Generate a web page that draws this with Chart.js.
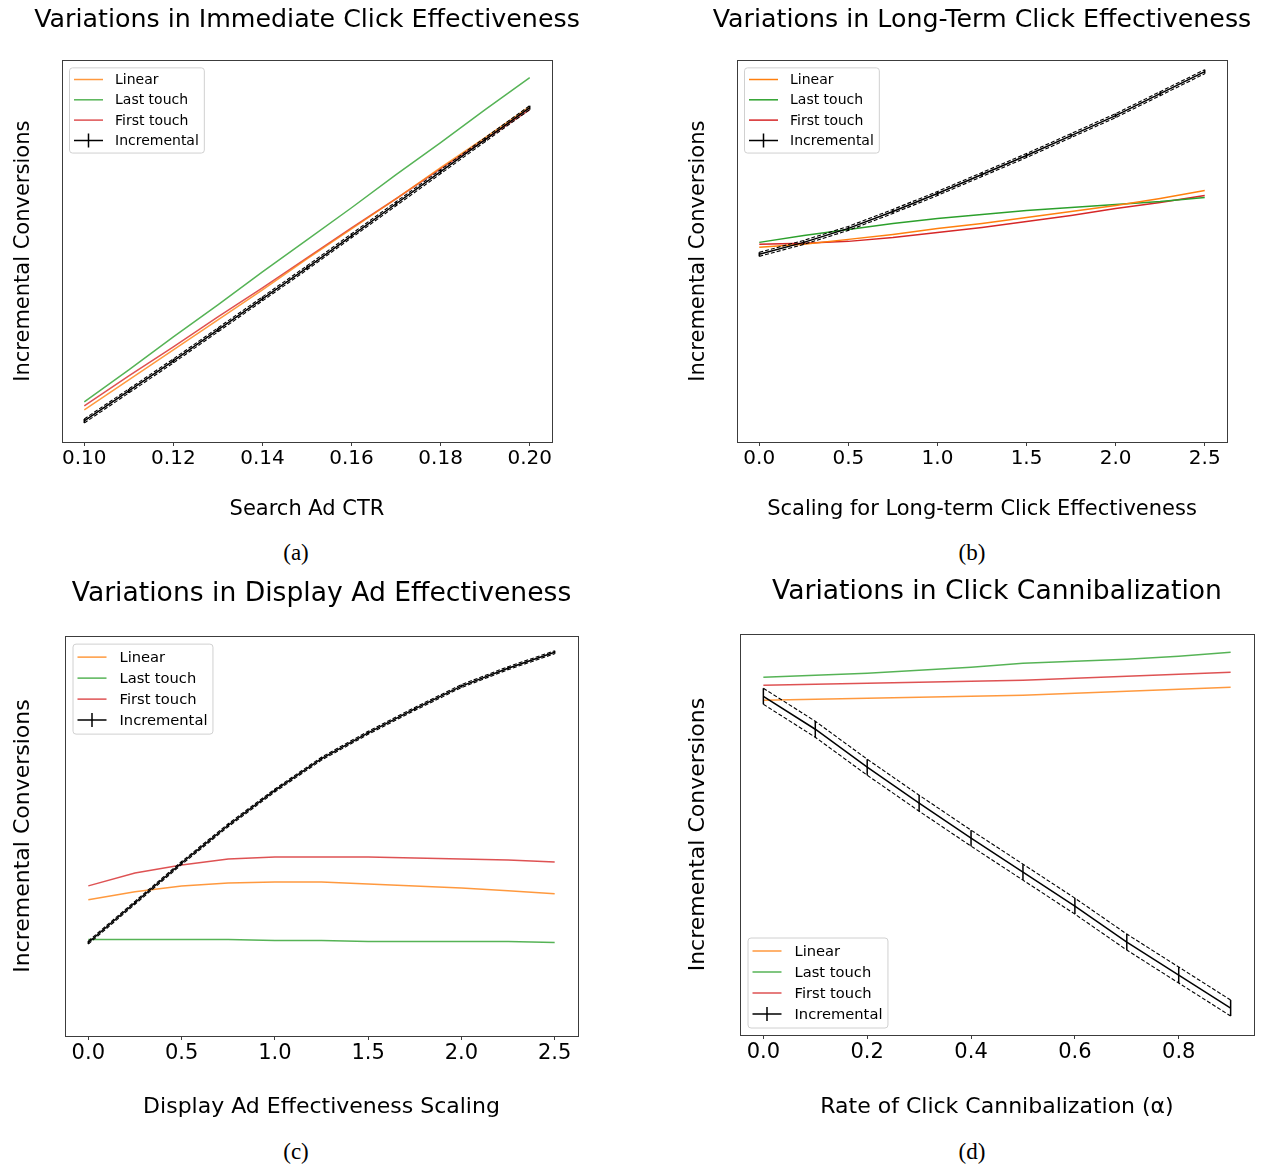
<!DOCTYPE html>
<html>
<head>
<meta charset="utf-8">
<title>Incremental conversions under attribution models</title>
<script src="https://cdn.jsdelivr.net/npm/chart.js@4.4.0/dist/chart.umd.min.js"></script>
<style>
    html, body { margin: 0; padding: 0; background: #fff; overflow: hidden; }
    body { width: 1270px; height: 1169px; position: relative; }
    canvas { position: absolute; }
    .cap {
        position: absolute;
        font-family: "Liberation Serif", "DejaVu Serif", serif;
        font-size: 23px;
        color: #000;
        transform: translate(-50%, -50%);
    }
</style>
</head>
<body>
<canvas id="chart-a" width="614" height="525" style="left:0px;top:0px"></canvas>
<canvas id="chart-b" width="614" height="525" style="left:675px;top:0px"></canvas>
<canvas id="chart-c" width="643" height="553" style="left:0px;top:570px"></canvas>
<canvas id="chart-d" width="654" height="555" style="left:670px;top:568px"></canvas>
<div class="cap" style="left:296px;top:553px">(a)</div>
<div class="cap" style="left:972px;top:553px">(b)</div>
<div class="cap" style="left:296px;top:1152px">(c)</div>
<div class="cap" style="left:972px;top:1152px">(d)</div>

<script>
// (a) search ad CTR
const ctrA = [0.10, 0.11, 0.12, 0.13, 0.14, 0.15, 0.16, 0.17, 0.18, 0.19, 0.20];
const linearA = [32, 62, 92, 122, 152, 183, 213, 243, 274, 304, 335];
const lastTouchA = [40, 72, 105, 137, 170, 202, 234, 267, 299, 332, 364];
const firstTouchA = [36, 66, 95, 125, 154, 184, 214, 243, 273, 302, 332];
const incrementalA = [21, 51, 81, 112, 143, 174, 206, 238, 270, 302, 334];
const incErrA = [2, 2, 2, 2, 2, 2, 2, 2, 2, 2, 2];
const xTicksA = [0.10, 0.12, 0.14, 0.16, 0.18, 0.20];
const xTickLabelsA = ['0.10', '0.12', '0.14', '0.16', '0.18', '0.20'];

// (b) long-term click effectiveness scaling
const scaleB = [0, 0.25, 0.5, 0.75, 1.0, 1.25, 1.5, 1.75, 2.0, 2.25, 2.5];
const linearB = [195, 198, 203, 208, 214, 219, 225, 231, 237, 244, 252];
const lastTouchB = [200, 207, 213, 219, 224, 228, 232, 235, 238, 241, 245];
const firstTouchB = [198, 199, 201, 205, 210, 215, 221, 227, 234, 240, 247];
const incrementalB = [188, 200, 214, 231, 249, 268, 287, 307, 327, 349, 371];
const incErrB = [2, 2, 2, 2, 2, 2, 2, 2, 2, 2, 2];
const xTicksB = [0, 0.5, 1.0, 1.5, 2.0, 2.5];
const xTickLabelsB = ['0.0', '0.5', '1.0', '1.5', '2.0', '2.5'];

// (c) display ad effectiveness scaling
const scaleC = [0, 0.25, 0.5, 0.75, 1.0, 1.25, 1.5, 1.75, 2.0, 2.25, 2.5];
const linearC = [137, 145, 151, 154, 155, 155, 153, 151, 149, 146, 143];
const lastTouchC = [97, 97, 97, 97, 96, 96, 95, 95, 95, 95, 94];
const firstTouchC = [151, 164, 172, 178, 180, 180, 180, 179, 178, 177, 175];
const incrementalC = [94, 134, 174, 212, 247, 279, 305, 329, 352, 370, 386];
const incErrC = [1.5, 1.5, 1.5, 1.5, 1.5, 1.5, 1.5, 1.5, 1.5, 1.5, 1.5];
const xTicksC = [0, 0.5, 1.0, 1.5, 2.0, 2.5];
const xTickLabelsC = ['0.0', '0.5', '1.0', '1.5', '2.0', '2.5'];

// (d) click cannibalization rate
const alphaD = [0, 0.1, 0.2, 0.3, 0.4, 0.5, 0.6, 0.7, 0.8, 0.9];
const linearD = [335, 336, 337, 338, 339, 340, 342, 344, 346, 348];
const lastTouchD = [358, 360, 362, 365, 368, 372, 374, 376, 379, 383];
const firstTouchD = [350, 351, 352, 353, 354, 355, 357, 359, 361, 363];
const incrementalD = [339, 306, 268, 232, 197, 163, 129, 93, 60, 27];
const incErrD = [8, 8, 8, 8, 8, 8, 8, 8, 8, 8];
const xTicksD = [0, 0.2, 0.4, 0.6, 0.8];
const xTickLabelsD = ['0.0', '0.2', '0.4', '0.6', '0.8'];

const FONT = 'DejaVu Sans';
const SPINE = '#3c3c3c';

// box round the plot area, like matplotlib spines
const frame = {
    id: 'frame',
    afterDraw(chart) {
        const a = chart.chartArea, ctx = chart.ctx;
        ctx.save();
        ctx.strokeStyle = SPINE;
        ctx.lineWidth = 1;
        ctx.strokeRect(Math.round(a.left) + 0.5, Math.round(a.top) + 0.5,
            Math.round(a.right - a.left), Math.round(a.bottom - a.top));
        ctx.restore();
    }
};

const errorBars = {
    id: 'errorBars',
    afterDatasetsDraw(chart) {
        const ctx = chart.ctx, x = chart.scales.x, y = chart.scales.y;
        chart.data.datasets.forEach(ds => {
            if (!ds.errors) return;
            ctx.save();
            ctx.strokeStyle = ds.borderColor;
            ctx.lineWidth = 1.5;
            ds.data.forEach((pt, i) => {
                const px = x.getPixelForValue(pt.x);
                ctx.beginPath();
                ctx.moveTo(px, y.getPixelForValue(pt.y - ds.errors[i]));
                ctx.lineTo(px, y.getPixelForValue(pt.y + ds.errors[i]));
                ctx.stroke();
            });
            ctx.restore();
        });
    }
};

// matplotlib style legend box
const mplLegend = {
    id: 'mplLegend',
    afterDraw(chart, args, opts) {
        const ctx = chart.ctx, a = chart.chartArea;
        const items = opts.items;
        ctx.save();
        ctx.font = opts.fontSize + 'px "' + FONT + '"';
        let tw = 0;
        items.forEach(it => { tw = Math.max(tw, ctx.measureText(it.label).width); });
        const w = opts.textX + tw + 5;
        const h = opts.row * items.length + opts.padY * 2;
        const x0 = a.left + opts.inset;
        const y0 = opts.corner === 'bl' ? a.bottom - opts.inset - h : a.top + opts.inset;
        ctx.beginPath();
        ctx.roundRect(x0 + 0.5, y0 + 0.5, w, h, 3);
        ctx.fillStyle = 'rgba(255,255,255,0.8)';
        ctx.fill();
        ctx.strokeStyle = '#d0d0d0';
        ctx.lineWidth = 1;
        ctx.stroke();
        items.forEach((it, i) => {
            const cy = y0 + opts.padY + opts.row * (i + 0.5);
            ctx.strokeStyle = it.color;
            ctx.lineWidth = 1.5;
            ctx.beginPath();
            ctx.moveTo(x0 + 5, cy);
            ctx.lineTo(x0 + 34, cy);
            if (it.bar) {
                ctx.moveTo(x0 + 19.5, cy - 7);
                ctx.lineTo(x0 + 19.5, cy + 7);
            }
            ctx.stroke();
            ctx.fillStyle = '#000';
            ctx.textBaseline = 'middle';
            ctx.textAlign = 'left';
            ctx.fillText(it.label, x0 + opts.textX, cy + 1);
        });
        ctx.restore();
    }
};

function tint(hex, alpha) {
    const n = parseInt(hex.slice(1), 16);
    return 'rgba(' + (n >> 16) + ',' + ((n >> 8) & 255) + ',' + (n & 255) + ',' + alpha + ')';
}

function drawPanel(id, p) {
    const upper = p.inc.map((v, i) => v + p.err[i]);
    const lower = p.inc.map((v, i) => v - p.err[i]);
    const all = [].concat(p.linear, p.last, p.first, upper, lower);
    const lo = Math.min(...all), hi = Math.max(...all);
    const xLo = Math.min(...p.x), xHi = Math.max(...p.x);
    const xPad = 0.05 * (xHi - xLo);
    const pts = arr => arr.map((v, i) => ({x: p.x[i], y: v}));
    const orange = tint('#ff7f0e', p.alpha), green = tint('#2ca02c', p.alpha), red = tint('#d62728', p.alpha);
    const line = {pointRadius: 0, tension: 0, fill: false, borderWidth: 1.5};

    return new Chart(document.getElementById(id), {
        type: 'line',
        data: {
            datasets: [
                {...line, label: 'Incremental', data: pts(p.inc), borderColor: '#000', errors: p.err},
                {...line, label: 'upper', data: pts(upper), borderColor: '#000', borderWidth: 1.1, borderDash: [4, 2]},
                {...line, label: 'lower', data: pts(lower), borderColor: '#000', borderWidth: 1.1, borderDash: [4, 2]},
                {...line, label: 'Linear', data: pts(p.linear), borderColor: orange},
                {...line, label: 'Last touch', data: pts(p.last), borderColor: green},
                {...line, label: 'First touch', data: pts(p.first), borderColor: red}
            ]
        },
        options: {
            responsive: false,
            animation: false,
            devicePixelRatio: 1,
            layout: {padding: 0},
            plugins: {
                legend: {display: false},
                tooltip: {enabled: false},
                title: {
                    display: true,
                    text: p.title,
                    color: '#000',
                    font: {family: FONT, size: p.fs.title, weight: 'normal'},
                    padding: {top: p.titlePad[0], bottom: p.titlePad[1]}
                },
                mplLegend: {
                    corner: p.legend.corner,
                    inset: p.legend.inset,
                    fontSize: p.legend.fontSize,
                    row: p.legend.row,
                    padY: p.legend.padY,
                    textX: p.legend.textX,
                    items: [
                        {label: 'Linear', color: orange},
                        {label: 'Last touch', color: green},
                        {label: 'First touch', color: red},
                        {label: 'Incremental', color: '#000', bar: true}
                    ]
                }
            },
            scales: {
                x: {
                    type: 'linear',
                    min: xLo - xPad,
                    max: xHi + xPad,
                    border: {display: false},
                    grid: {drawOnChartArea: false, drawTicks: true, tickLength: 4, color: SPINE},
                    ticks: {
                        color: '#000',
                        padding: 1,
                        maxRotation: 0,
                        autoSkip: false,
                        font: {family: FONT, size: p.fs.tick},
                        callback: (v, i) => p.tickLabels[i]
                    },
                    afterBuildTicks: s => { s.ticks = p.ticks.map(v => ({value: v})); },
                    afterFit: s => { s.height = p.xh; },
                    title: {
                        display: true,
                        text: p.xTitle,
                        color: '#000',
                        font: {family: FONT, size: p.fs.label},
                        padding: {top: 0, bottom: p.xTitlePad}
                    }
                },
                y: {
                    type: 'linear',
                    min: 0,
                    max: hi + 0.05 * (hi - lo),
                    border: {display: false},
                    grid: {display: false},
                    ticks: {display: false},
                    afterFit: s => { s.width = p.yw; },
                    title: {
                        display: true,
                        text: 'Incremental Conversions',
                        color: '#000',
                        font: {family: FONT, size: p.fs.label},
                        padding: {top: p.yTitlePad, bottom: 0}
                    }
                },
                yRight: {
                    type: 'linear',
                    position: 'right',
                    display: true,
                    border: {display: false},
                    grid: {display: false},
                    ticks: {display: false},
                    afterFit: s => { s.width = p.padR; }
                }
            }
        },
        plugins: [errorBars, frame, mplLegend]
    });
}

const smallFonts = {title: 25.3, tick: 20, label: 21};
const bigFonts = {title: 26.6, tick: 21, label: 22};

drawPanel('chart-a', {
    x: ctrA, linear: linearA, last: lastTouchA, first: firstTouchA, inc: incrementalA, err: incErrA,
    ticks: xTicksA, tickLabels: xTickLabelsA, alpha: 0.8,
    title: 'Variations in Immediate Click Effectiveness', xTitle: 'Search Ad CTR',
    fs: smallFonts, titlePad: [5, 25], yw: 62, padR: 62, xh: 83, xTitlePad: 2.4, yTitlePad: 10.5,
    legend: {corner: 'tl', inset: 7, fontSize: 14, row: 20.3, padY: 2, textX: 46}
});

drawPanel('chart-b', {
    x: scaleB, linear: linearB, last: lastTouchB, first: firstTouchB, inc: incrementalB, err: incErrB,
    ticks: xTicksB, tickLabels: xTickLabelsB, alpha: 1,
    title: 'Variations in Long-Term Click Effectiveness', xTitle: 'Scaling for Long-term Click Effectiveness',
    fs: smallFonts, titlePad: [5, 25], yw: 62, padR: 62, xh: 83, xTitlePad: 2.4, yTitlePad: 10.5,
    legend: {corner: 'tl', inset: 7, fontSize: 14, row: 20.3, padY: 2, textX: 46}
});

drawPanel('chart-c', {
    x: scaleC, linear: linearC, last: lastTouchC, first: firstTouchC, inc: incrementalC, err: incErrC,
    ticks: xTicksC, tickLabels: xTickLabelsC, alpha: 0.8,
    title: 'Variations in Display Ad Effectiveness', xTitle: 'Display Ad Effectiveness Scaling',
    fs: bigFonts, titlePad: [8, 26.2], yw: 65, padR: 65, xh: 87, xTitlePad: 2.8, yTitlePad: 9.8,
    legend: {corner: 'tl', inset: 7.5, fontSize: 14.7, row: 21, padY: 3, textX: 47}
});

drawPanel('chart-d', {
    x: alphaD, linear: linearD, last: lastTouchD, first: firstTouchD, inc: incrementalD, err: incErrD,
    ticks: xTicksD, tickLabels: xTickLabelsD, alpha: 0.8,
    title: 'Variations in Click Cannibalization', xTitle: 'Rate of Click Cannibalization (\u03b1)',
    fs: bigFonts, titlePad: [8, 26.2], yw: 70, padR: 70, xh: 88, xTitlePad: 2.8, yTitlePad: 14.8,
    legend: {corner: 'bl', inset: 7.5, fontSize: 14.7, row: 21, padY: 3, textX: 47}
});
</script>
</body>
</html>
